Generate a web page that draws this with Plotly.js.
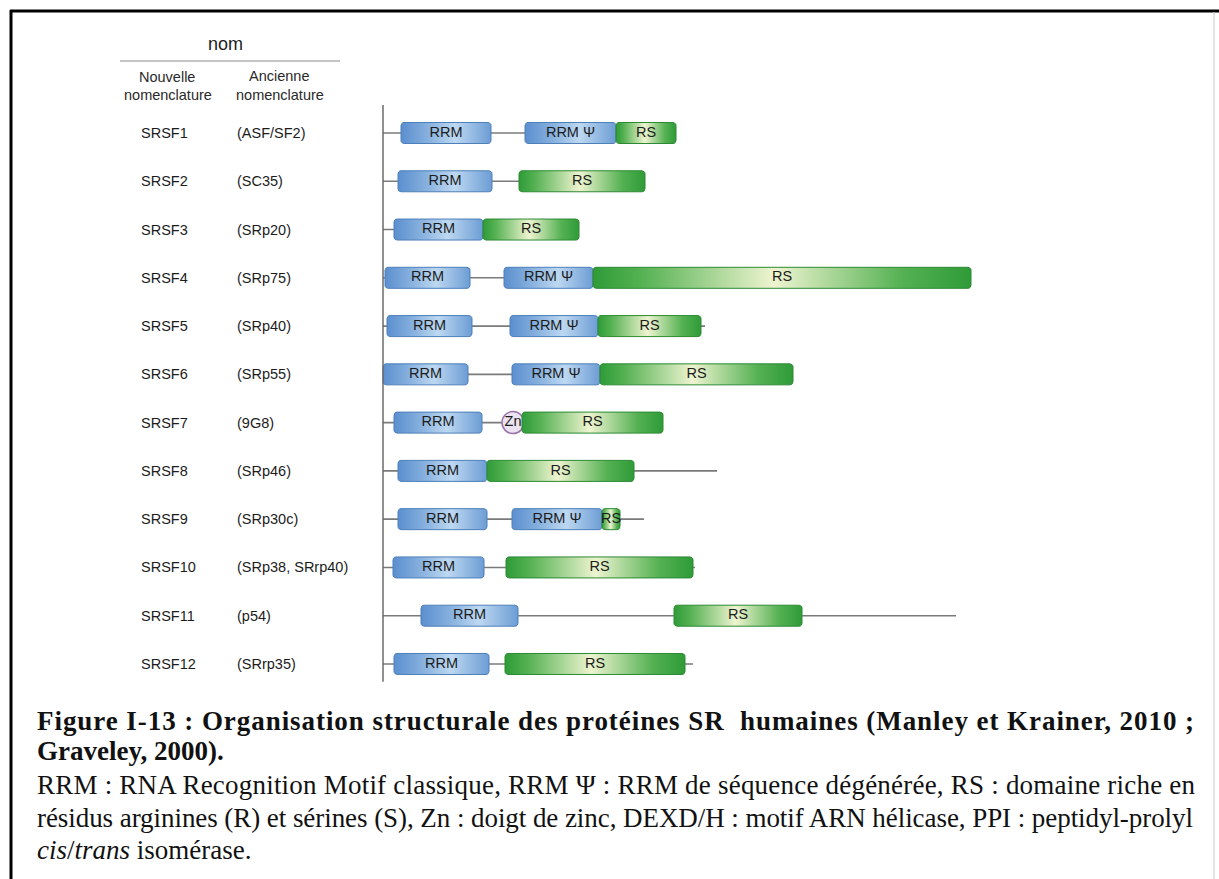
<!DOCTYPE html>
<html>
<head>
<meta charset="utf-8">
<script src="https://cdn.plot.ly/plotly-3.0.1.min.js"></script>
<style>html,body{margin:0;padding:0;background:#fff;}#chart{width:1219px;height:879px;}</style>
</head>
<body>
<div id="chart"></div>
<script>
// ---------------- data (positions along each protein, arbitrary units from N-terminus) ----------------
const newNames = ['SRSF1','SRSF2','SRSF3','SRSF4','SRSF5','SRSF6','SRSF7','SRSF8','SRSF9','SRSF10','SRSF11','SRSF12'];
const oldNames = ['(ASF/SF2)','(SC35)','(SRp20)','(SRp75)','(SRp40)','(SRp55)','(9G8)','(SRp46)','(SRp30c)','(SRp38, SRrp40)','(p54)','(SRrp35)'];
const proteinLength = [293, 262, 196, 588, 322, 410, 280, 334, 261, 312, 573, 310];
const rrmStart     = [18, 15, 11, 2, 4, 0, 11, 15, 15, 10, 38, 11];
const rrmEnd       = [108, 109, 100, 87, 89, 85, 99, 104, 104, 101, 135, 106];
const rrmPsiStart  = [142, null, null, 121, 127, 129, null, null, 129, null, null, null];
const rrmPsiEnd    = [233, null, null, 210, 215, 217, null, null, 219, null, null, null];
const znPos        = [null, null, null, null, null, null, 130, null, null, null, null, null];
const rsStart      = [233, 136, 100, 210, 215, 217, 139, 104, 219, 123, 291, 122];
const rsEnd        = [293, 262, 196, 588, 318, 410, 280, 251, 237, 310, 419, 302];

// ---------------- layout constants ----------------
const W = 1219, H = 879;
const ORIGIN_PX = 383;      // page x of the N-terminal axis
const FIRST_ROW_PX = 133;   // page y of first row
const ROW_PX = 48.27;       // px per row
const BOX_H = 21;           // box height px
const R_PX = 3;             // corner radius px

const xRange = [-ORIGIN_PX, W - ORIGIN_PX];
const yRange = [(H - FIRST_ROW_PX) / ROW_PX, -FIRST_ROW_PX / ROW_PX];
const py = p => 1 - p / H;    // page y -> paper
const px = p => p / W;        // page x -> paper

const rrmScale = [[0,'#5b8fcf'],[0.3,'#86b0de'],[0.6,'#bdd8f1'],[1,'#6d9dd5']];
const rsScale  = [[0,'#2f9b38'],[0.12,'#52b050'],[0.48,'#eef4d0'],[0.82,'#54b152'],[1,'#2f9b38']];

function roundedBox(x0, x1, yc) {
  const hh = BOX_H / 2 / ROW_PX, ry = R_PX / ROW_PX;
  const rx = Math.min(R_PX, (x1 - x0) / 2);
  const xs = [], ys = [];
  const corners = [
    [x1 - rx, yc - hh + ry, -90, 0],
    [x1 - rx, yc + hh - ry, 0, 90],
    [x0 + rx, yc + hh - ry, 90, 180],
    [x0 + rx, yc - hh + ry, 180, 270]
  ];
  corners.forEach(c => {
    for (let k = 0; k <= 4; k++) {
      const a = (c[2] + (c[3] - c[2]) * k / 4) * Math.PI / 180;
      xs.push(c[0] + rx * Math.cos(a));
      ys.push(c[1] + ry * Math.sin(a));
    }
  });
  xs.push(xs[0]); ys.push(ys[0]);
  return {xs, ys};
}

const traces = [];
const SANS = 'Liberation Sans, Arial, sans-serif';
const SERIF = 'Liberation Serif, Times New Roman, serif';
const labelFont = {family: SANS, size: 14.5, color: '#1c1c1c'};

// backbone lines
const bx = [], by = [];
proteinLength.forEach((L, i) => { bx.push(0, L, null); by.push(i, i, null); });
traces.push({type:'scatter', mode:'lines', x: bx, y: by, line:{color:'#7a7a7a', width:1.6}, hoverinfo:'skip', showlegend:false});

function addBox(x0, x1, i, scale, border, label) {
  const b = roundedBox(x0, x1, i);
  traces.push({type:'scatter', mode:'lines', x: b.xs, y: b.ys, fill:'toself',
    fillgradient:{type:'horizontal', colorscale: scale},
    line:{color: border, width: 1}, hoverinfo:'skip', showlegend:false});
  traces.push({type:'scatter', mode:'text', x:[(x0 + x1) / 2], y:[i], text:[label],
    textposition:'middle center', textfont: labelFont, hoverinfo:'skip', showlegend:false});
}

newNames.forEach((n, i) => {
  addBox(rrmStart[i], rrmEnd[i], i, rrmScale, '#4d7fb9', 'RRM');
  if (rrmPsiStart[i] !== null) addBox(rrmPsiStart[i], rrmPsiEnd[i], i, rrmScale, '#4d7fb9', 'RRM \u03A8');
  if (znPos[i] !== null) {
    traces.push({type:'scatter', mode:'markers+text', x:[znPos[i]], y:[i], text:['Zn'],
      textposition:'middle center', textfont: labelFont,
      marker:{symbol:'circle', size:22, color:'#ede2f1', line:{color:'#9a76ac', width:1.5}},
      hoverinfo:'skip', showlegend:false});
  }
  addBox(rsStart[i], rsEnd[i], i, rsScale, '#2b8a33', 'RS');
});

// ---------------- annotations ----------------
const ann = [];
const justify = [];   // parallel to ann: target text width in px (null = natural)
const sideFont = {family: SANS, size: 14.5, color:'#1c1c1c'};
newNames.forEach((n, i) => {
  ann.push({xref:'paper', yref:'y', x: px(139), y: i, text: n, showarrow:false, xanchor:'left', yanchor:'middle', font: sideFont}); justify.push(null);
  ann.push({xref:'paper', yref:'y', x: px(235), y: i, text: oldNames[i], showarrow:false, xanchor:'left', yanchor:'middle', font: sideFont}); justify.push(null);
});
const hdrFont = {family: SANS, size: 14.5, color:'#2a2a2a'};
const hdr = [['nom', 225, 44, {family: SANS, size: 18, color:'#1c1c1c'}],
             ['Nouvelle', 167, 77, hdrFont], ['nomenclature', 168, 95, hdrFont],
             ['Ancienne', 279, 76, hdrFont], ['nomenclature', 280, 95, hdrFont]];
hdr.forEach(h => { ann.push({xref:'paper', yref:'paper', x: px(h[1]), y: py(h[2]), text: h[0], showarrow:false,
  xanchor:'center', yanchor:'middle', font: h[3]}); justify.push(null); });

const capBold = {family: SERIF, size: 27, color:'#111', weight:'bold'};
const capReg = {family: SERIF, size: 27, color:'#111'};
const capLines = [
  ['<b>Figure I-13 : Organisation structurale des protéines SR\u00A0 humaines (Manley et Krainer, 2010 ;</b>', 721, capBold, 1157],
  ['<b>Graveley, 2000).</b>', 751, capBold, null],
  ['RRM : RNA Recognition Motif classique, RRM \u03A8 : RRM de séquence dégénérée, RS : domaine riche en', 785, capReg, 1158],
  ['résidus arginines (R) et sérines (S), Zn : doigt de zinc, DEXD/H : motif ARN hélicase, PPI : peptidyl-prolyl', 818, capReg, 1156],
  ['<i>cis</i>/<i>trans</i> isomérase.', 850, capReg, null]
];
capLines.forEach(c => { ann.push({xref:'paper', yref:'paper', x: px(35), y: py(c[1]), text: c[0], showarrow:false,
  xanchor:'left', yanchor:'middle', font: c[2]}); justify.push(c[3]); });

// ---------------- shapes ----------------
const shapes = [
  {type:'line', xref:'paper', yref:'paper', x0: px(10), x1: 1, y0: py(11), y1: py(11), line:{color:'#000', width:3}},
  {type:'line', xref:'paper', yref:'paper', x0: px(11), x1: px(11), y0: py(10), y1: 0, line:{color:'#000', width:3}},
  {type:'line', xref:'paper', yref:'paper', x0: px(1214), x1: px(1214), y0: py(12), y1: 0, line:{color:'#c8c8c8', width:1}},
  {type:'line', xref:'paper', yref:'paper', x0: px(120), x1: px(340), y0: py(61), y1: py(61), line:{color:'#8a8a8a', width:1.2}},
  {type:'line', xref:'x', yref:'y', x0: 0, x1: 0, y0: -0.58, y1: newNames.length - 1 + 0.37, line:{color:'#6a6a6a', width:1.5}}
];

const layout = {
  width: W, height: H, autosize: false,
  margin: {l:0, r:0, t:0, b:0, pad:0},
  paper_bgcolor:'#fff', plot_bgcolor:'#fff',
  showlegend:false,
  xaxis: {range: xRange, visible:false, fixedrange:true},
  yaxis: {range: yRange, visible:false, fixedrange:true},
  annotations: ann,
  shapes: shapes,
  hovermode: false
};

Plotly.newPlot('chart', traces, layout, {staticPlot:true, displayModeBar:false}).then(() => {
  // justify caption lines to the full text-block width (as in the source document)
  document.querySelectorAll('#chart .annotation').forEach(g => {
    const idx = +g.getAttribute('data-index');
    const target = justify[idx];
    if (!target) return;
    const t = g.querySelector('text.annotation-text');
    if (!t) return;
    const bb = t.getBBox();
    t.setAttribute('text-anchor', 'start');
    t.style.textAnchor = 'start';
    t.setAttribute('x', bb.x);
    t.setAttribute('textLength', target);
    t.setAttribute('lengthAdjust', 'spacing');
  });
});
</script>
</body>
</html>
